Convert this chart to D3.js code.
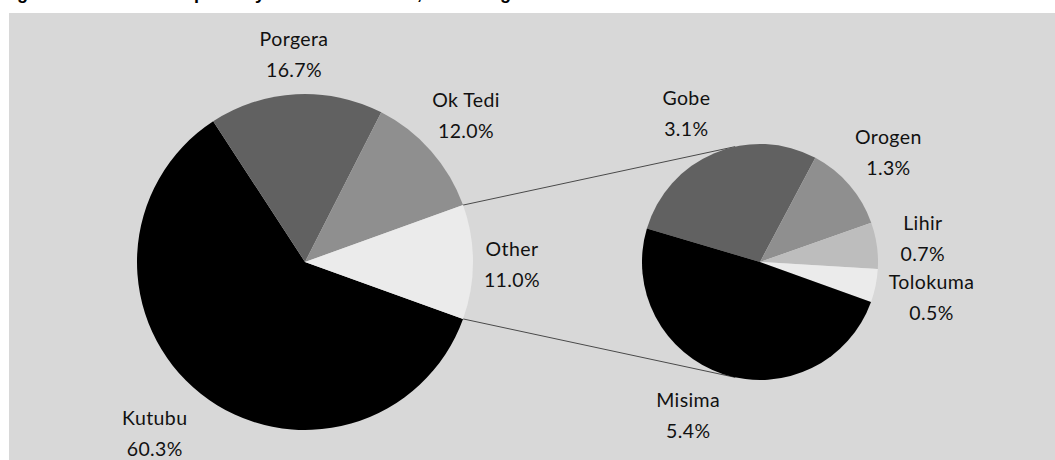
<!DOCTYPE html>
<html>
<head>
<meta charset="utf-8">
<script src="https://cdn.jsdelivr.net/npm/d3@7"></script>
<style>
  html, body { margin: 0; padding: 0; background: #ffffff; }
  svg { display: block; }
  .lbl { font-family: Lato, "DejaVu Sans Condensed", sans-serif; font-size: 19.5px; letter-spacing: 0.4px; fill: #111; }
  .title { font-family: "Liberation Sans", Arial, sans-serif; font-weight: bold; font-size: 18px; fill: #000; }
</style>
</head>
<body>
<svg id="chart" width="1055" height="460"></svg>
<script>
// Main pie: share by project
const mainNames = ["Kutubu", "Porgera", "Ok Tedi", "Other"];
const mainShares = [60.3, 16.7, 12.0, 11.0];
const mainColors = ["#000000", "#616161", "#8f8f8f", "#ebebeb"];

// Breakdown of "Other"
const subNames = ["Gobe", "Orogen", "Lihir", "Tolokuma", "Misima"];
const subShares = [3.1, 1.3, 0.7, 0.5, 5.4];
const subColors = ["#616161", "#8f8f8f", "#bdbdbd", "#ebebeb", "#000000"];

// Label nudges (first-line baseline relative to the slice's outer mid point)
const mainNudge = [[-46, 31], [-2, -48], [35, -44], [39, -6]];
const subNudge = [[-28, -48], [39, -41], [46, -16], [56, 3], [-35, 33]];

const svg = d3.select("#chart");
const W = 1055, H = 460;

svg.append("text").attr("class", "title")
  .attr("x", 1).attr("y", -1)
  .text("Figure 4.2: Share of exports by mine and oil field, excluding LNG");

svg.append("rect").attr("x", 9).attr("y", 13)
  .attr("width", W - 9).attr("height", H - 13).attr("fill", "#d8d8d8");

const C1 = {x: 305, y: 262}, R1 = 168;
const C2 = {x: 760, y: 262}, R2 = 118;

const total = d3.sum(mainShares);
const otherShare = mainShares[mainShares.length - 1];
// Rotate so that "Other" is centred on the right-hand side
const otherEnd = Math.PI / 2 + (otherShare / total) * Math.PI;
const mainStart = otherEnd - 2 * Math.PI;

const mainPie = d3.pie().sort(null).value(d => d)
  .startAngle(mainStart).endAngle(mainStart + 2 * Math.PI);
const mainArcs = mainPie(mainShares);

// Secondary pie: small slices end at the same angle as "Other"
const subTotal = d3.sum(subShares);
const smallSum = d3.sum(subShares.slice(0, subShares.length - 1));
const subStart = otherEnd - (smallSum / subTotal) * 2 * Math.PI;
const subPie = d3.pie().sort(null).value(d => d)
  .startAngle(subStart).endAngle(subStart + 2 * Math.PI);
const subArcs = subPie(subShares);

const arc1 = d3.arc().innerRadius(0).outerRadius(R1);
const arc2 = d3.arc().innerRadius(0).outerRadius(R2);

function polar(c, r, a) {
  return {x: c.x + r * Math.sin(a), y: c.y - r * Math.cos(a)};
}

// Connector lines: from the ends of "Other" to tangents of the second pie
const otherArc = mainArcs[mainArcs.length - 1];
const pTop = polar(C1, R1, otherArc.startAngle);
const pBot = polar(C1, R1, otherArc.endAngle);
function tangent(p, sign) {
  const dx = p.x - C2.x, dy = p.y - C2.y;
  const d = Math.hypot(dx, dy);
  const phi = Math.atan2(dy, dx);
  const a = phi + sign * Math.acos(R2 / d);
  return {x: C2.x + R2 * Math.cos(a), y: C2.y + R2 * Math.sin(a)};
}
const tTop = tangent(pTop, 1), tBot = tangent(pBot, -1);
const lines = svg.append("g").attr("stroke", "#4a4a4a").attr("stroke-width", 1);
lines.append("line").attr("x1", pTop.x).attr("y1", pTop.y).attr("x2", tTop.x).attr("y2", tTop.y);
lines.append("line").attr("x1", pBot.x).attr("y1", pBot.y).attr("x2", tBot.x).attr("y2", tBot.y);

svg.append("g").attr("transform", `translate(${C1.x},${C1.y})`)
  .selectAll("path").data(mainArcs).join("path")
  .attr("d", arc1).attr("fill", (d, i) => mainColors[i]);

svg.append("g").attr("transform", `translate(${C2.x},${C2.y})`)
  .selectAll("path").data(subArcs).join("path")
  .attr("d", arc2).attr("fill", (d, i) => subColors[i]);

function addLabels(arcs, names, c, r, nudge) {
  arcs.forEach((d, i) => {
    const mid = (d.startAngle + d.endAngle) / 2;
    const p = polar(c, r, mid);
    const x = p.x + nudge[i][0], y = p.y + nudge[i][1];
    const t = svg.append("text").attr("class", "lbl").attr("text-anchor", "middle");
    t.append("tspan").attr("x", x).attr("y", y).text(names[i]);
    t.append("tspan").attr("x", x).attr("y", y + 31).text(d.data.toFixed(1) + "%");
  });
}
addLabels(mainArcs, mainNames, C1, R1, mainNudge);
addLabels(subArcs, subNames, C2, R2, subNudge);
</script>
</body>
</html>
